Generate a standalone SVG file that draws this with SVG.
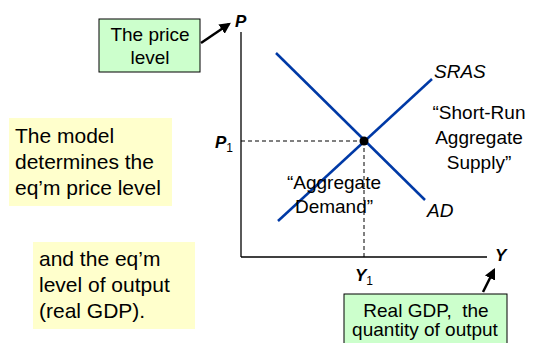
<svg xmlns="http://www.w3.org/2000/svg" width="535" height="343" viewBox="0 0 535 343">
<defs>
<style>
text{font-family:"Liberation Sans",Arial,sans-serif;fill:#000}
.note{font-size:21px}
.lbl{font-size:19px}
.axl{font-size:17px;font-weight:bold;font-style:italic}
.cur{font-size:19px;font-style:italic}
.curve{stroke:#0039a6;stroke-width:2.5;fill:none}
.axis{stroke:#000;stroke-width:1.3;fill:none}
.dash{stroke:#000;stroke-width:1;stroke-dasharray:4 3;fill:none}
.arr{stroke:#000;stroke-width:2.5;fill:none;marker-end:url(#ah)}
.green{fill:#ccffcc;stroke:#000;stroke-width:1}
.yellow{fill:#ffffcc;stroke:none}
</style>
<marker id="ah" viewBox="0 0 10 10" refX="8" refY="5" markerWidth="4.5" markerHeight="4.5" orient="auto" markerUnits="strokeWidth">
<path d="M0,0 L10,5 L0,10 z" fill="#000"/>
</marker>
</defs>
<g id="connectors">
<line class="axis" x1="241" y1="32" x2="241" y2="257"/>
<line class="axis" x1="241" y1="257" x2="487" y2="257"/>
<line class="dash" x1="241" y1="141" x2="364" y2="141"/>
<line class="dash" x1="364" y1="141" x2="364" y2="257"/>
<line class="curve" x1="276" y1="53" x2="425" y2="200"/>
<line class="curve" x1="278" y1="221" x2="432" y2="79"/>
<line class="arr" x1="201" y1="43" x2="229" y2="24"/>
<line class="arr" x1="483" y1="292" x2="494" y2="270"/>
</g>
<g id="eq"><circle cx="364" cy="141" r="4.5" fill="#000"/></g>
<g id="axis-P"><text class="axl" x="235" y="27">P</text></g>
<g id="axis-Y"><text class="axl" x="495" y="261">Y</text></g>
<g id="P1"><text class="axl" x="215" y="148">P<tspan font-size="12" font-weight="normal" font-style="normal" dy="4">1</tspan></text></g>
<g id="Y1"><text class="axl" x="355" y="281">Y<tspan font-size="12" font-weight="normal" font-style="normal" dy="4">1</tspan></text></g>
<g id="SRAS"><text class="cur" x="434" y="78">SRAS</text></g>
<g id="AD"><text class="cur" x="427" y="217">AD</text></g>
<g id="sras-desc"><text class="lbl" text-anchor="middle" x="479" y="119">“Short-Run</text><text class="lbl" text-anchor="middle" x="479" y="144">Aggregate</text><text class="lbl" text-anchor="middle" x="479" y="169">Supply”</text></g>
<g id="ad-desc"><text class="lbl" text-anchor="middle" x="334" y="189">“Aggregate</text><text class="lbl" text-anchor="middle" x="334" y="213">Demand”</text></g>
<g id="price-box"><rect class="green" x="99" y="19" width="101" height="53"/><text class="lbl" text-anchor="middle" x="150" y="41">The price</text><text class="lbl" text-anchor="middle" x="150" y="64">level</text></g>
<g id="gdp-box"><rect class="green" x="344" y="294" width="163" height="60"/><text class="lbl" text-anchor="middle" x="426" y="317" style="white-space:pre">Real GDP,  the</text><text class="lbl" text-anchor="middle" x="425" y="336">quantity of output</text></g>
<g id="note1"><rect class="yellow" x="9" y="118" width="163" height="88"/><text class="note" x="15" y="143">The model</text><text class="note" x="15" y="169">determines the</text><text class="note" x="15" y="195">eq’m price level</text></g>
<g id="note2"><rect class="yellow" x="33" y="242" width="162" height="87"/><text class="note" x="39" y="266">and the eq’m</text><text class="note" x="39" y="292">level of output</text><text class="note" x="39" y="318">(real GDP).</text></g>
</svg>
